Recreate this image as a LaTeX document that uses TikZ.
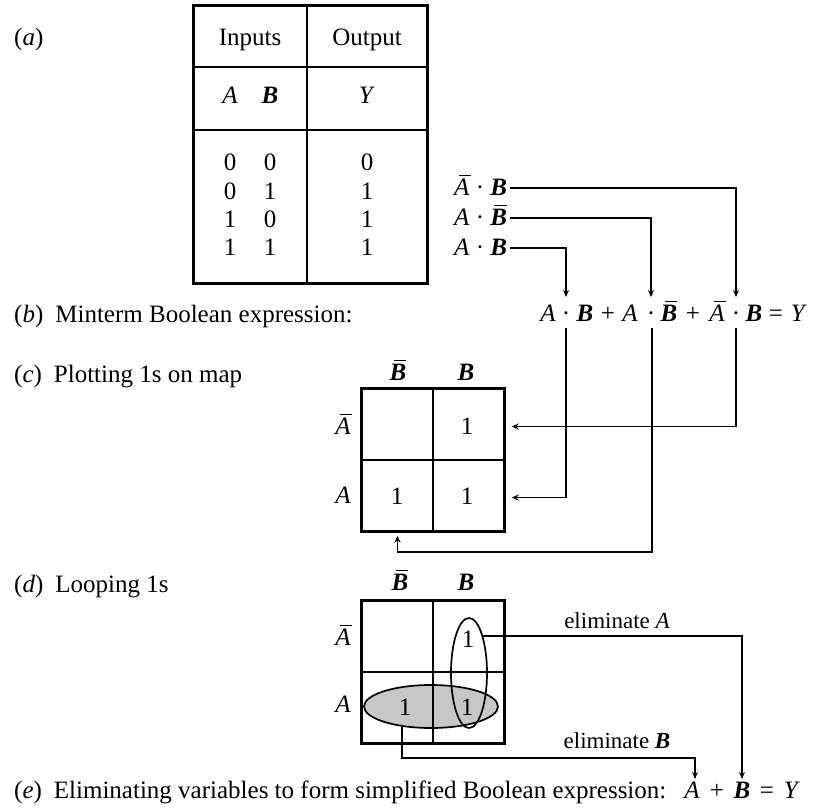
\documentclass[tikz,border=0pt]{standalone}
\usepackage{fontspec}
\setmainfont{Liberation Serif}
\usetikzlibrary{arrows.meta,shapes.geometric}
\newcommand\vA{\textit{A}}
\newcommand\vB{\textbf{\textit{B}}}
\newcommand\vY{\textit{Y}}
\newcommand\nA{\makebox[0pt][l]{\hspace{0.2em}\rule[0.76em]{0.48em}{0.05em}}\textit{A}}
\newcommand\nB{\makebox[0pt][l]{\hspace{0.16em}\rule[0.76em]{0.5em}{0.05em}}\textbf{\textit{B}}}
\newcommand\dotop{\textperiodcentered}
\newcommand\plab[1]{(\textit{#1})}
\begin{document}
\begin{tikzpicture}[x=1pt,y=-1pt,
 txt/.style={inner sep=0pt, anchor=base, font=\fontsize{25}{29}\selectfont},
 lbl/.style={txt, anchor=base west},
 smalltxt/.style={inner sep=0pt, anchor=base, font=\fontsize{23}{27}\selectfont},
 conn/.style={line width=1.3pt, -{Stealth[length=7pt,width=6pt]}},
 wire/.style={line width=1.3pt},
 heavy/.style={line width=3pt},
 cellc/.style={draw, line width=1.4pt, minimum width=71pt, minimum height=71pt, inner sep=0pt},
 loop/.style={draw, ellipse, line width=1.7pt, inner sep=0pt},
]
\useasboundingbox (0,0) rectangle (815,809);

% ---------- (a) truth table ----------
\draw[wire] (307,5) -- (307,283);
\draw[line width=1.5pt] (193,67) -- (427,67);
\draw[line width=2.6pt] (193,130) -- (427,130);
\draw[heavy] (193,5) rectangle (427,283);
\node[txt] (hIn) at (250,45) {Inputs};
\node[txt] (hOut) at (367,45) {Output};
\node[txt] (hA) at (230,103) {\vA};
\node[txt] (hB) at (270,103) {\vB};
\node[txt] (hY) at (367,103) {\vY};
\node[txt] (r1a) at (230,170) {0}; \node[txt] (r1b) at (270,170) {0}; \node[txt] (r1y) at (367,170) {0};
\node[txt] (r2a) at (230,199) {0}; \node[txt] (r2b) at (270,199) {1}; \node[txt] (r2y) at (367,199) {1};
\node[txt] (r3a) at (230,227) {1}; \node[txt] (r3b) at (270,227) {0}; \node[txt] (r3y) at (367,227) {1};
\node[txt] (r4a) at (230,255) {1}; \node[txt] (r4b) at (270,255) {1}; \node[txt] (r4y) at (367,255) {1};

% ---------- left labels ----------
\node[lbl] (la) at (14,45) {\plab{a}};
\node[lbl] (lb) at (14,322) {\plab{b}\hspace{0.48em}Minterm Boolean expression:};
\node[lbl] (lc) at (14,382) {\plab{c}\hspace{0.48em}Plotting 1s on map};
\node[lbl] (ld) at (14,592) {\plab{d}\hspace{0.48em}Looping 1s};
\node[lbl] (le) at (14,798) {\plab{e}\hspace{0.48em}Eliminating variables to form simplified Boolean expression:};

% ---------- minterms ----------
\node[txt, anchor=base west] (m1) at (454,195) {\nA\ \dotop\ \vB};
\node[txt, anchor=base west] (m2) at (454,225) {\vA\ \dotop\ \nB};
\node[txt, anchor=base west] (m3) at (454,255) {\vA\ \dotop\ \vB};

% ---------- (b) expression ----------
\node[txt] (x1) at (548,321) {\vA};
\node[txt] (d1) at (566,321) {\dotop};
\node[txt] (x2) at (585,321) {\vB};
\node[txt] (p1) at (608,321) {+};
\node[txt] (x3) at (630,321) {\vA};
\node[txt] (d2) at (651,321) {\dotop};
\node[txt] (x4) at (669,321) {\nB};
\node[txt] (p2) at (693,321) {+};
\node[txt] (x5) at (717,321) {\nA};
\node[txt] (d3) at (736,321) {\dotop};
\node[txt] (x6) at (754,321) {\vB};
\node[txt] (q1) at (776,321) {=};
\node[txt] (x7) at (799,321) {\vY};

\coordinate (t1) at (566,297);
\coordinate (t2) at (651,297);
\coordinate (t3) at (736,297);
\draw[conn] ([xshift=3pt,yshift=7pt]m1.base east) -| (t3);
\draw[conn] ([xshift=3pt,yshift=7pt]m2.base east) -| (t2);
\draw[conn] ([xshift=3pt,yshift=7pt]m3.base east) -| (t1);

\coordinate (b1) at (566,328);
\coordinate (b2) at (652,328);
\coordinate (b3) at (736,328);

% ---------- (c) map ----------
\node[cellc] (c00) at (397.5,424.5) {};
\node[cellc] (c01) at (468.5,424.5) {};
\node[cellc] (c10) at (397.5,495.5) {};
\node[cellc] (c11) at (468.5,495.5) {};
\draw[heavy] (c00.north west) rectangle (c11.south east);
\node[txt] (cBn) at (398,380) {\nB};
\node[txt] (cB) at (466,380) {\vB};
\node[txt] (cAn) at (343,434) {\nA};
\node[txt] (cA) at (343,503) {\vA};
\node[txt] (c1a) at (467,434) {1};
\node[txt] (c1b) at (397,504) {1};
\node[txt] (c1c) at (467,504) {1};

\draw[conn] (b3) |- ([xshift=7pt,yshift=-2pt]c01.east);
\draw[conn] (b1) |- ([xshift=7pt,yshift=-2pt]c11.east);
\coordinate (k2) at (652,552);
\draw[conn] (b2) -- (k2) -| ([yshift=-4pt]c10.south);

% ---------- (d) map with loops ----------
\node[loop, fill=black!22, minimum width=134pt, minimum height=43pt] (lp1) at (431,706.5) {};
\node[cellc] (e00) at (397.5,636.5) {};
\node[cellc] (e01) at (468.5,636.5) {};
\node[cellc] (e10) at (397.5,707.5) {};
\node[cellc] (e11) at (468.5,707.5) {};
\draw[heavy] (e00.north west) rectangle (e11.south east);
\node[loop, minimum width=36pt, minimum height=110pt] (lp2) at (469,673) {};
\node[txt] (dBn) at (400,590) {\nB};
\node[txt] (dB) at (466,590) {\vB};
\node[txt] (dAn) at (343,645) {\nA};
\node[txt] (dA) at (343,712) {\vA};
\node[txt] (d1a) at (468,647) {1};
\node[txt] (d1b) at (405,715) {1};
\node[txt] (d1c) at (467,715) {1};

\node[smalltxt] (elA) at (617,628) {eliminate \vA};
\node[smalltxt] (elB) at (617,748) {eliminate \vB};

% ---------- (e) result ----------
\node[txt] (yA) at (692,798) {\vA};
\node[txt] (yP) at (717,798) {+};
\node[txt] (yB) at (742,798) {\vB};
\node[txt] (yE) at (767,798) {=};
\node[txt] (yY) at (792,798) {\vY};

\coordinate (fA) at (742,779);
\draw[conn] (lp2.69) -| (fA);
\coordinate (kB) at (695,758);
\coordinate (fB) at (695,779);
\draw[conn] (lp1.215) |- (kB) -- (fB);
\end{tikzpicture}
\end{document}
